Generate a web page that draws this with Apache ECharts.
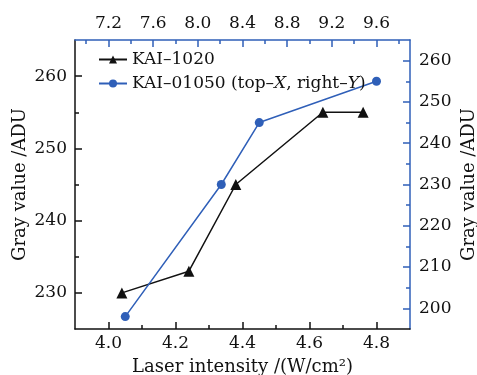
<!DOCTYPE html>
<html>
<head>
<meta charset="utf-8">
<script src="https://cdn.jsdelivr.net/npm/echarts@6/dist/echarts.min.js"></script>
<style>
  html, body { margin: 0; padding: 0; background: #fff; }
  #chart { width: 477px; height: 375px; }
</style>
</head>
<body>
<div id="chart"></div>
<script>
// KAI-1020: bottom X, left Y
const bottomX = [4.04, 4.24, 4.38, 4.64, 4.76]
const leftY = [230, 233, 245, 255, 255]
// KAI-01050: top X, right Y
const topX = [7.35, 8.21, 8.55, 9.6]
const rightY = [198, 230, 245, 255]

const bottomTicks = [4.0, 4.2, 4.4, 4.6, 4.8]
const bottomMinor = [4.1, 4.3, 4.5, 4.7]
const topTicks = [7.2, 7.6, 8.0, 8.4, 8.8, 9.2, 9.6]
const topMinor = [7.0, 7.4, 7.8, 8.2, 8.6, 9.0, 9.4, 9.8]
const leftTicks = [230, 240, 250, 260]
const leftMinor = [235, 245, 255]
const rightTicks = [200, 210, 220, 230, 240, 250, 260]
const rightMinor = [205, 215, 225, 235, 245, 255]

const FONT = 'DejaVu Serif'
const BLACK = '#111'
const BLUE = '#2f5fb8'
const NAME_A = 'KAI\u20131020'
const NAME_B = 'KAI\u201301050 (top\u2013X, right\u2013Y)'

function majorAxis(pos, min, max, color, ticks, digits, margin, extra) {
  return Object.assign({
    type: 'value',
    position: pos,
    min, max,
    axisLine: { show: true, onZero: false, lineStyle: { color, width: 1.5 } },
    axisTick: { show: true, inside: true, length: 7, customValues: ticks, lineStyle: { color, width: 1.5 } },
    axisLabel: {
      show: true, customValues: ticks, color: BLACK, fontFamily: FONT, fontSize: 17, margin,
      formatter: v => Number(v).toFixed(digits),
    },
    splitLine: { show: false },
  }, extra || {})
}

function minorAxis(pos, min, max, color, ticks) {
  return {
    type: 'value',
    position: pos,
    min, max,
    axisLine: { show: false, onZero: false },
    axisTick: { show: true, inside: true, length: 4, customValues: ticks, lineStyle: { color, width: 1.5 } },
    axisLabel: { show: false },
    splitLine: { show: false },
  }
}

const titleStyle = { fontFamily: FONT, fontSize: 18, color: BLACK }

const chart = echarts.init(document.getElementById('chart'), null, { renderer: 'canvas' })

chart.setOption({
  animation: false,
  backgroundColor: '#fff',
  grid: { left: 75, right: 67, top: 40, bottom: 46, containLabel: false, outerBoundsMode: 'none' },
  legend: {
    orient: 'vertical',
    left: 93,
    top: 46,
    itemWidth: 28,
    itemHeight: 10,
    itemGap: 7,
    data: [NAME_A, NAME_B],
    textStyle: {
      fontFamily: FONT, fontSize: 17, color: BLACK,
      rich: {
        n: { fontFamily: FONT, fontSize: 17, color: BLACK },
        i: { fontFamily: FONT, fontSize: 17, color: BLACK, fontStyle: 'italic' },
      },
    },
    formatter: name => name === NAME_B
      ? '{n|KAI\u201301050 (top\u2013}{i|X}{n|, right\u2013}{i|Y}{n|)}'
      : '{n|' + name + '}',
  },
  xAxis: [
    majorAxis('bottom', 3.9, 4.9, BLACK, bottomTicks, 1, 6, {
      name: 'Laser intensity /(W/cm\u00b2)',
      nameLocation: 'middle',
      nameGap: 29,
      nameTextStyle: titleStyle,
    }),
    minorAxis('bottom', 3.9, 4.9, BLACK, bottomMinor),
    majorAxis('top', 6.9, 9.9, BLUE, topTicks, 1, 8),
    minorAxis('top', 6.9, 9.9, BLUE, topMinor),
  ],
  yAxis: [
    majorAxis('left', 225, 265, BLACK, leftTicks, 0, 8, {
      name: 'Gray value /ADU',
      nameLocation: 'middle',
      nameGap: 46,
      nameMoveOverlap: false,
      nameTextStyle: titleStyle,
    }),
    minorAxis('left', 225, 265, BLACK, leftMinor),
    majorAxis('right', 195, 265, BLUE, rightTicks, 0, 9, {
      name: 'Gray value /ADU',
      nameLocation: 'middle',
      nameGap: 50,
      nameRotate: 90,
      nameMoveOverlap: false,
      nameTextStyle: titleStyle,
    }),
    minorAxis('right', 195, 265, BLUE, rightMinor),
  ],
  series: [
    {
      name: NAME_A,
      type: 'line',
      xAxisIndex: 0,
      yAxisIndex: 0,
      symbol: 'triangle',
      symbolSize: 11,
      itemStyle: { color: BLACK },
      lineStyle: { color: BLACK, width: 1.5 },
      data: bottomX.map((x, i) => [x, leftY[i]]),
    },
    {
      name: NAME_B,
      type: 'line',
      xAxisIndex: 2,
      yAxisIndex: 2,
      symbol: 'circle',
      symbolSize: 9,
      itemStyle: { color: BLUE },
      lineStyle: { color: BLUE, width: 1.5 },
      data: topX.map((x, i) => [x, rightY[i]]),
    },
  ],
})
</script>
</body>
</html>
